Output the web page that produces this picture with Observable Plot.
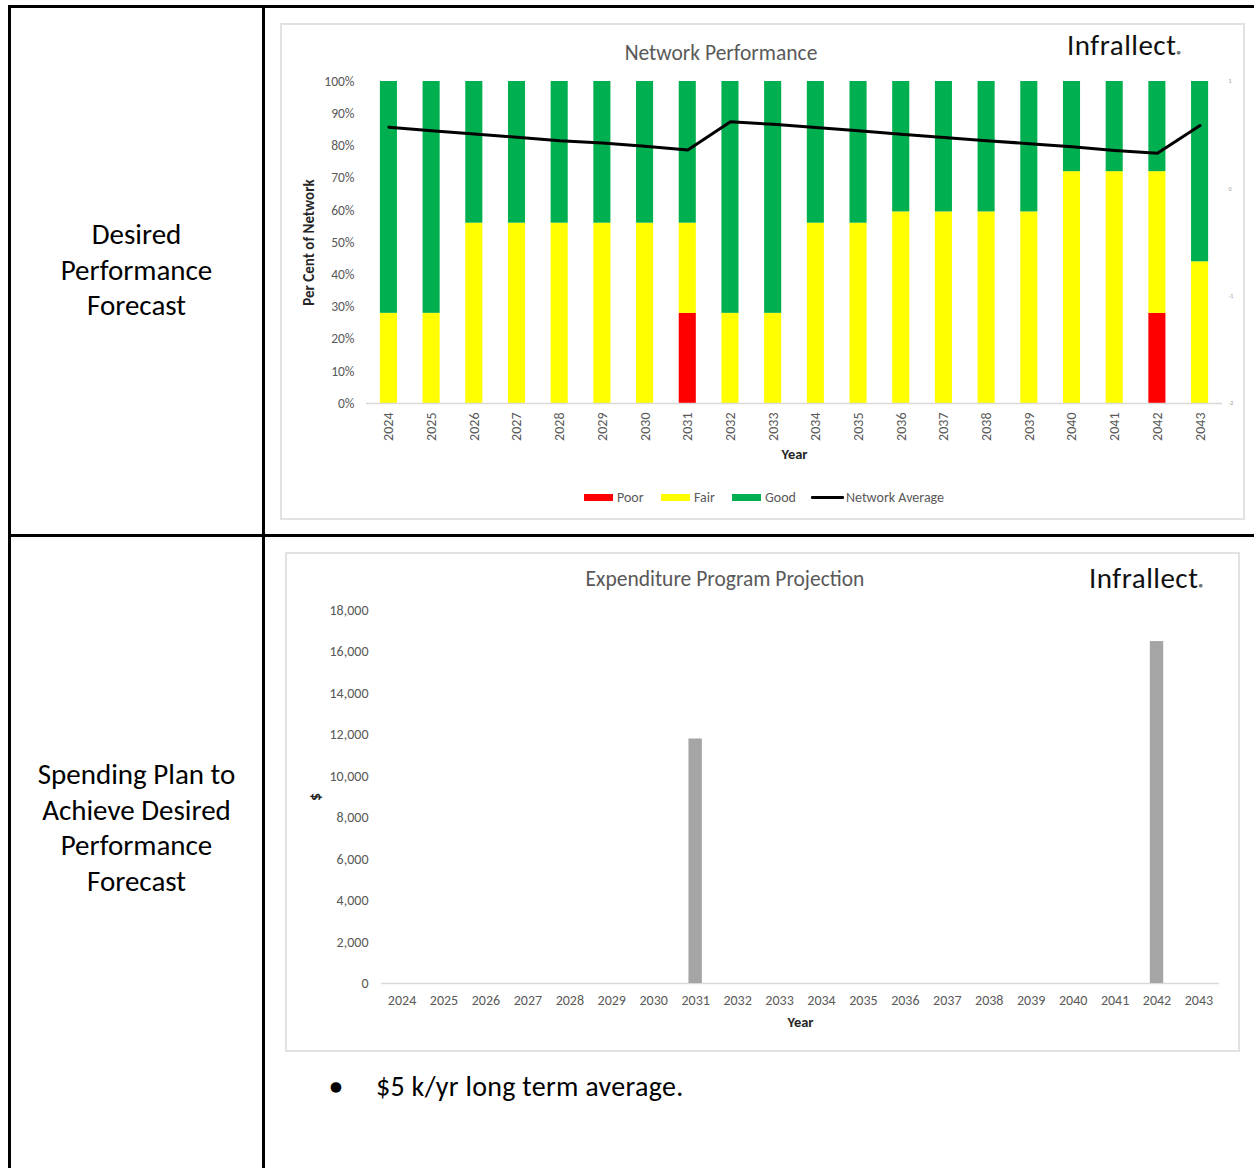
<!DOCTYPE html>
<html><head><meta charset="utf-8">
<script src="https://cdn.jsdelivr.net/npm/d3@7"></script>
<script src="https://cdn.jsdelivr.net/npm/@observablehq/plot@0.6"></script>
<style>
html,body{margin:0;padding:0;background:#fff;}
body{position:relative;width:1254px;height:1168px;overflow:hidden;font-family:Carlito,Lato,sans-serif;}
.rule{position:absolute;background:#000;}
.panel{position:absolute;border:2px solid #e2e2e2;box-sizing:border-box;pointer-events:none;}
.chart{position:absolute;}
.title{position:absolute;transform:translate(-50%,-50%);color:#595959;font-size:21.5px;white-space:nowrap;}
.logo{position:absolute;transform:translateY(-50%);font-size:29px;letter-spacing:0.5px;color:#111;white-space:nowrap;}
.cell{position:absolute;left:11px;width:251px;text-align:center;font-size:29px;line-height:35.6px;color:#000;}
.leg{position:absolute;font-size:14px;color:#595959;transform:translateY(-50%);white-space:nowrap;}
.sw{position:absolute;}
.bullet{position:absolute;font-size:28px;color:#000;transform:translateY(-50%);white-space:nowrap;}
</style></head><body>
<div class="rule" style="left:8px;top:5px;width:1246px;height:3px"></div>
<div class="rule" style="left:8px;top:5px;width:3px;height:1163px"></div>
<div class="rule" style="left:262px;top:5px;width:3px;height:1163px"></div>
<div class="rule" style="left:8px;top:534px;width:1246px;height:3px"></div>

<div class="cell" style="top:217px">Desired<br>Performance<br>Forecast</div>
<div class="cell" style="top:757px">Spending Plan to<br>Achieve Desired<br>Performance<br>Forecast</div>

<div id="c1" class="chart" style="left:280px;top:23px"></div>
<div class="panel" style="left:280px;top:23px;width:965px;height:497px"></div>
<div class="title" style="left:721px;top:53px">Network Performance</div>
<div class="logo" style="left:1067px;top:45px">Infrallect<span style="font-size:8px;color:#777">●</span></div>
<div id="legend1"></div>

<div id="c2" class="chart" style="left:285px;top:552px"></div>
<div class="panel" style="left:285px;top:552px;width:955px;height:500px"></div>
<div class="title" style="left:725px;top:579px">Expenditure Program Projection</div>
<div class="logo" style="left:1089px;top:578px">Infrallect<span style="font-size:8px;color:#777">●</span></div>

<div class="bullet" style="left:329px;top:1086px;font-size:23px">●</div>
<div class="bullet" style="left:376px;top:1086px;letter-spacing:0.3px">$5 k/yr long term average.</div>

<script>
const years = ["2024","2025","2026","2027","2028","2029","2030","2031","2032","2033","2034","2035","2036","2037","2038","2039","2040","2041","2042","2043"];
const poorPct = [0,0,0,0,0,0,0,28,0,0,0,0,0,0,0,0,0,0,28,0];
const fairPct = [28,28,56,56,56,56,56,28,28,28,56,56,59.5,59.5,59.5,59.5,72,72,44,44];
const goodPct = [72,72,44,44,44,44,44,44,72,72,44,44,40.5,40.5,40.5,40.5,28,28,28,56];
const networkAverage = [85.8,84.7,83.7,82.7,81.6,80.9,79.9,78.7,87.5,86.7,85.7,84.7,83.6,82.6,81.6,80.7,79.7,78.6,77.7,86.3];
const expenditure = [0,0,0,0,0,0,0,11800,0,0,0,0,0,0,0,0,0,0,16500,0];
const categories = ["Poor","Fair","Good"];
const categoryColors = ["#ff0000","#ffff00","#00b050"];
const percentTicks = [0,10,20,30,40,50,60,70,80,90,100];
const secondaryTicks = [1,0,-1,-2];
const spendTicks = [0,2000,4000,6000,8000,10000,12000,14000,16000,18000];
const legendItems = ["Poor","Fair","Good","Network Average"];

const stackData = years.flatMap((y,i)=>[
  {year:y, cat:"Poor", v:poorPct[i]},
  {year:y, cat:"Fair", v:fairPct[i]},
  {year:y, cat:"Good", v:goodPct[i]}
]);
const avgData = years.map((y,i)=>({year:y, v:networkAverage[i]}));
const spendData = years.map((y,i)=>({year:y, v:expenditure[i]}));

const baseStyle = {fontFamily:"Carlito, Lato, sans-serif", fontSize:"14px", color:"#595959", background:"transparent", overflow:"visible"};

const chart1 = Plot.plot({
  width:963, height:496, marginLeft:86, marginRight:21, marginTop:58, marginBottom:116,
  style: baseStyle,
  x:{type:"band", domain:years, paddingInner:0.6, paddingOuter:0.325, round:false},
  y:{domain:[0,100]},
  color:{domain:categories, range:categoryColors},
  marks:[
    Plot.barY(stackData, {x:"year", y:"v", fill:"cat", order:categories}),
    Plot.ruleY([0], {stroke:"#d9d9d9", strokeWidth:1.5}),
    Plot.line(avgData, {x:"year", y:"v", stroke:"#000", strokeWidth:3, strokeLinejoin:"round", strokeLinecap:"round"}),
    Plot.axisY(percentTicks, {tickFormat:d=>d+"%", tickSize:0, tickPadding:12, label:null, fontSize:13.5}),
    Plot.axisX({tickRotate:-90, tickSize:0, tickPadding:9, label:null, fontSize:14}),
    Plot.text(["Per Cent of Network"], {frameAnchor:"left", dx:-57, rotate:-90, textAnchor:"middle", fontWeight:"bold", fill:"#262626", fontSize:15}),
    Plot.text(["Year"], {frameAnchor:"bottom", dy:55, fontWeight:"bold", fill:"#262626", fontSize:14.5}),
    Plot.text(secondaryTicks, {y:d=>(d+2)/3*100, frameAnchor:"right", dx:6, text:d=>String(d), fontSize:6, fill:"#999", textAnchor:"start"})
  ]
});
document.getElementById("c1").appendChild(chart1);

const chart2 = Plot.plot({
  width:953, height:499, marginLeft:96, marginRight:19, marginTop:58, marginBottom:68,
  style: baseStyle,
  x:{type:"band", domain:years, paddingInner:0.68, paddingOuter:0.33, round:false},
  y:{domain:[0,18000]},
  marks:[
    Plot.ruleY([0], {stroke:"#d9d9d9", strokeWidth:1.5}),
    Plot.barY(spendData, {x:"year", y:"v", fill:"#a5a5a5"}),
    Plot.axisY(spendTicks, {tickFormat:d3.format(","), tickSize:0, tickPadding:13, label:null, fontSize:14}),
    Plot.axisX({tickSize:0, tickPadding:12, label:null, fontSize:14}),
    Plot.text(["$"], {frameAnchor:"left", dx:-66, rotate:-90, textAnchor:"middle", fontWeight:"bold", fill:"#262626", fontSize:16}),
    Plot.text(["Year"], {frameAnchor:"bottom", dy:43, fontWeight:"bold", fill:"#262626", fontSize:14.5})
  ]
});
document.getElementById("c2").appendChild(chart2);

// legend for chart 1
const legendPos = [{sx:584, tx:617},{sx:661, tx:694},{sx:732, tx:765},{sx:811, tx:846}];
const lg = document.getElementById("legend1");
legendItems.forEach((name,i)=>{
  const p = legendPos[i];
  const sw = document.createElement("div");
  sw.className = "sw";
  if (i < 3) {
    sw.style.cssText = `left:${p.sx}px;top:493.5px;width:29px;height:7px;background:${categoryColors[i]}`;
  } else {
    sw.style.cssText = `left:${p.sx}px;top:495.5px;width:33px;height:3px;background:#000;border-radius:1px`;
  }
  lg.appendChild(sw);
  const t = document.createElement("div");
  t.className = "leg";
  t.style.left = p.tx + "px";
  t.style.top = "497px";
  t.textContent = name;
  lg.appendChild(t);
});
</script>
</body></html>
